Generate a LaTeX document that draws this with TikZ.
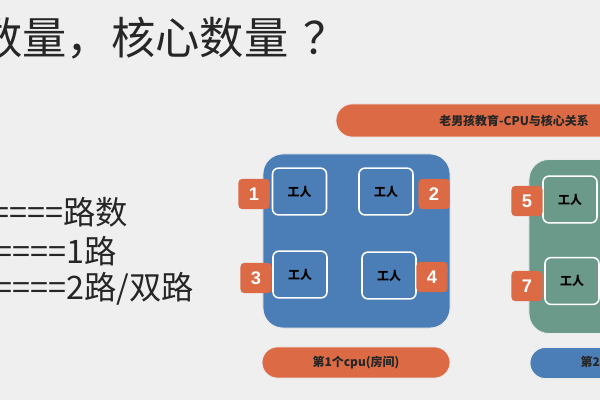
\documentclass[tikz,border=0pt]{standalone}
\usepackage{fontspec}
\newfontfamily\cjk{Noto Sans CJK SC}
\newfontfamily\tagfont{Liberation Sans}
\definecolor{bgray}{HTML}{EFEFEF}
\definecolor{tagorange}{HTML}{DC6B45}
\definecolor{roomblue}{HTML}{4B7DB6}
\definecolor{roomgreen}{HTML}{6B9A8B}
\begin{document}
\begin{tikzpicture}[x=0.025cm,y=-0.025cm,
  room/.style={draw=white!85!gray,line width=0.6pt,rounded corners=0.5cm,
    minimum width=4.675cm,minimum height=4.35cm},
  worker/.style={draw=white,line width=1.1pt,rounded corners=0.15cm,
    minimum width=1.35cm,minimum height=1.17cm,font=\cjk\bfseries\fontsize{8.5}{9}\selectfont},
  numtag/.style={fill=tagorange,rounded corners=0.1cm,minimum width=0.78cm,
    minimum height=0.76cm,text=white,font=\tagfont\bfseries\fontsize{13}{13}\selectfont},
  pill/.style={draw=white!85!gray,line width=0.6pt,rounded corners=0.39cm,
    minimum height=0.78cm,font=\cjk\bfseries\fontsize{8.5}{9}\selectfont,text=black!85}]
\useasboundingbox (0,0) rectangle (600,400);
\clip (0,0) rectangle (600,400);
\fill[bgray] (0,0) rectangle (600,400);

% heading and left notes
\node[anchor=west,inner sep=0,text=black!85,font=\cjk\fontsize{31.5}{32}\selectfont] (title) at (-22,38) {数量，核心数量\hspace{0.35em}？};
\node[anchor=east,inner sep=0,text=black!85,font=\cjk\fontsize{23}{23}\selectfont] (lineA) at (128,212) {=====路数};
\node[anchor=east,inner sep=0,text=black!85,font=\cjk\fontsize{23}{23}\selectfont] (lineB) at (117,251) {=====1路};
\node[anchor=east,inner sep=0,text=black!85,font=\cjk\fontsize{23}{23}\selectfont] (lineC) at (194,289) {=====2路/双路};

% banner
\node[pill,fill=tagorange,minimum width=8.9cm,rounded corners=0.41cm,minimum height=0.83cm] (banner) at (514,120.5) {老男孩教育-CPU与核心关系};

% first cpu
\node[room,fill=roomblue] (cpuA) at (356.5,241) {};
\node[worker,fill=roomblue] (w1) at (299.5,191.5) {工人};
\node[worker,fill=roomblue] (w2) at (386,191.5) {工人};
\node[worker,fill=roomblue] (w3) at (300,274.5) {工人};
\node[worker,fill=roomblue] (w4) at (389,275.5) {工人};
\node[numtag] (t1) at (254,194) {1};
\node[numtag] (t2) at (434,194) {2};
\node[numtag] (t3) at (256,278) {3};
\node[numtag] (t4) at (432,277) {4};
\node[pill,fill=tagorange,minimum width=4.7cm] (roomA) at (356,362.5) {第1个cpu(房间)};

% second cpu
\node[room,fill=roomgreen] (cpuB) at (622.5,246.5) {};
\node[worker,fill=roomgreen] (w5) at (570,199.5) {工人};
\node[worker,fill=roomgreen] (w7) at (572,281) {工人};
\node[numtag] (t5) at (527,201) {5};
\node[numtag] (t7) at (527,286) {7};
\node[pill,fill=roomblue,minimum width=4.7cm] (roomB) at (624,363) {第2个cpu(房间)};
\end{tikzpicture}
\end{document}
